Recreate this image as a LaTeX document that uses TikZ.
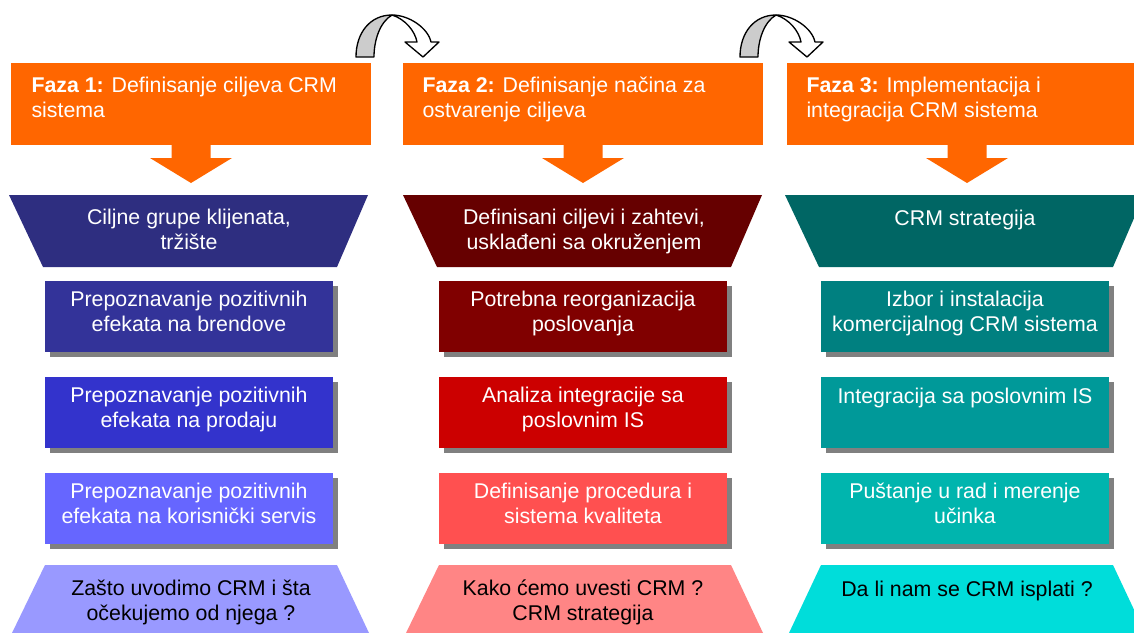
\documentclass[tikz,border=0pt]{standalone}
\usepackage{fontspec}
\setmainfont{Liberation Sans}
\usetikzlibrary{calc,shadows}

\tikzset{every picture/.style={line width=0.75pt}}
\tikzset{
  fazabox/.style={rectangle, fill={rgb, 255:red, 255; green, 102; blue, 0 }, minimum width=270pt, minimum height=61.5pt, inner sep=0pt, outer sep=0pt},
  korak/.style={rectangle, minimum width=216pt, minimum height=53.25pt, inner sep=0pt, outer sep=0pt, drop shadow={shadow xshift=3.75pt, shadow yshift=-3.75pt, fill={rgb, 255:red, 128; green, 128; blue, 128 }, opacity=1}},
  belo/.style={text=white, font=\fontsize{16}{18.5}\selectfont, align=center, anchor=base, inner sep=0pt},
  crno/.style={belo, text=black},
  zakrivljena/.style={draw=black, line width=1pt, line join=round},
}

\begin{document}
\begin{tikzpicture}[x=0.75pt,y=0.75pt,yscale=-1,xscale=1]
\useasboundingbox (0,0) rectangle (1134,632);

%Shape: Rectangle (faze)
\node[fazabox] (faza1) at (191,104) {};
\node[fazabox] (faza2) at (583,104) {};
\node[fazabox] (faza3) at (967,104) {};

%Shape: Down Arrow
\fill[fill={rgb, 255:red, 255; green, 102; blue, 0 }] ($(faza1.south)+(-19.5,0)$) -- ($(faza1.south)+(-19.5,13)$) -- ($(faza1.south)+(-41,13)$) -- ($(faza1.south)+(0,38)$) -- ($(faza1.south)+(41,13)$) -- ($(faza1.south)+(19.5,13)$) -- ($(faza1.south)+(19.5,0)$) -- cycle ;
%Shape: Down Arrow
\fill[fill={rgb, 255:red, 255; green, 102; blue, 0 }] ($(faza2.south)+(-19.5,0)$) -- ($(faza2.south)+(-19.5,13)$) -- ($(faza2.south)+(-41,13)$) -- ($(faza2.south)+(0,38)$) -- ($(faza2.south)+(41,13)$) -- ($(faza2.south)+(19.5,13)$) -- ($(faza2.south)+(19.5,0)$) -- cycle ;
%Shape: Down Arrow
\fill[fill={rgb, 255:red, 255; green, 102; blue, 0 }] ($(faza3.south)+(-19.5,0)$) -- ($(faza3.south)+(-19.5,13)$) -- ($(faza3.south)+(-41,13)$) -- ($(faza3.south)+(0,38)$) -- ($(faza3.south)+(41,13)$) -- ($(faza3.south)+(19.5,13)$) -- ($(faza3.south)+(19.5,0)$) -- cycle ;

%Shape: Curved Arrow
\draw[zakrivljena, fill={rgb, 255:red, 204; green, 204; blue, 204 }] (356,57) .. controls (356,33) and (370,15) .. (392,15) .. controls (380,22) and (374,40) .. (374,57) -- cycle ;
\draw[zakrivljena, fill=white] (392,15) .. controls (409,15) and (428,28) .. (431,42) -- (439,42) -- (423,57) -- (405,42) -- (417,42) .. controls (415,31) and (405,19) .. (392,15) -- cycle ;
%Shape: Curved Arrow
\begin{scope}[shift={(384,0)}]
\draw[zakrivljena, fill={rgb, 255:red, 204; green, 204; blue, 204 }] (356,57) .. controls (356,33) and (370,15) .. (392,15) .. controls (380,22) and (374,40) .. (374,57) -- cycle ;
\draw[zakrivljena, fill=white] (392,15) .. controls (409,15) and (428,28) .. (431,42) -- (439,42) -- (423,57) -- (405,42) -- (417,42) .. controls (415,31) and (405,19) .. (392,15) -- cycle ;
\end{scope}

%Shape: Trapezoid
\fill[fill={rgb, 255:red, 46; green, 46; blue, 128 }] (9,195) -- (368,195) -- (337,267) -- (43,267) -- cycle ;
%Shape: Trapezoid
\fill[fill={rgb, 255:red, 102; green, 0; blue, 0 }] (403,195) -- (762,195) -- (731,267) -- (437,267) -- cycle ;
%Shape: Trapezoid
\fill[fill={rgb, 255:red, 0; green, 102; blue, 100 }] (785,195) -- (1144,195) -- (1113,267) -- (819,267) -- cycle ;

%Shape: Rectangle (koraci)
\node[korak, fill={rgb, 255:red, 51; green, 51; blue, 153 }] (korak11) at (189,316.5) {};
\node[korak, fill={rgb, 255:red, 51; green, 51; blue, 204 }] (korak12) at (189,412.5) {};
\node[korak, fill={rgb, 255:red, 102; green, 102; blue, 255 }] (korak13) at (189,508.5) {};
\node[korak, fill={rgb, 255:red, 128; green, 0; blue, 0 }] (korak21) at (583,316.5) {};
\node[korak, fill={rgb, 255:red, 204; green, 0; blue, 0 }] (korak22) at (583,412.5) {};
\node[korak, fill={rgb, 255:red, 255; green, 80; blue, 80 }] (korak23) at (583,508.5) {};
\node[korak, fill={rgb, 255:red, 0; green, 128; blue, 128 }] (korak31) at (965,316.5) {};
\node[korak, fill={rgb, 255:red, 0; green, 153; blue, 153 }] (korak32) at (965,412.5) {};
\node[korak, fill={rgb, 255:red, 0; green, 181; blue, 174 }] (korak33) at (965,508.5) {};

%Shape: Trapezoid
\fill[fill={rgb, 255:red, 153; green, 153; blue, 255 }] (45,565) -- (337,565) -- (369,633) -- (12,633) -- cycle ;
%Shape: Trapezoid
\fill[fill={rgb, 255:red, 255; green, 133; blue, 133 }] (439,565) -- (731,565) -- (763,633) -- (406,633) -- cycle ;
%Shape: Trapezoid
\fill[fill={rgb, 255:red, 0; green, 221; blue, 218 }] (821,565) -- (1113,565) -- (1145,633) -- (789,633) -- cycle ;

% Text Node (base = last line)
\node[belo, align=left, anchor=base west] (fazatxt1) at (31,117.5) {\textbf{Faza 1:} Definisanje ciljeva CRM\\sistema};
% Text Node
\node[belo, align=left, anchor=base west] (fazatxt2) at (422,117.5) {\textbf{Faza 2:} Definisanje načina za\\ostvarenje ciljeva};
% Text Node
\node[belo, align=left, anchor=base west] (fazatxt3) at (806,117.5) {\textbf{Faza 3:} Implementacija i\\integracija CRM sistema};

% Text Node
\node[belo] (cilj1) at (189,249.5) {Ciljne grupe klijenata,\\tržište};
% Text Node
\node[belo] (cilj2) at (584,249.5) {Definisani ciljevi i zahtevi,\\usklađeni sa okruženjem};
% Text Node
\node[belo] (cilj3) at (965,225) {CRM strategija};

% Text Node
\node[belo] (tekst11) at ($(korak11.north)+(0,50.5)$) {Prepoznavanje pozitivnih\\efekata na brendove};
% Text Node
\node[belo] (tekst12) at ($(korak12.north)+(0,50.5)$) {Prepoznavanje pozitivnih\\efekata na prodaju};
% Text Node
\node[belo] (tekst13) at ($(korak13.north)+(0,50.5)$) {Prepoznavanje pozitivnih\\efekata na korisnički servis};
% Text Node
\node[belo] (tekst21) at ($(korak21.north)+(0,50.5)$) {Potrebna reorganizacija\\poslovanja};
% Text Node
\node[belo] (tekst22) at ($(korak22.north)+(0,50.5)$) {Analiza integracije sa\\poslovnim IS};
% Text Node
\node[belo] (tekst23) at ($(korak23.north)+(0,50.5)$) {Definisanje procedura i\\sistema kvaliteta};
% Text Node
\node[belo] (tekst31) at ($(korak31.north)+(0,50.5)$) {Izbor i instalacija\\komercijalnog CRM sistema};
% Text Node
\node[belo] (tekst32) at ($(korak32.north)+(0,26)$) {Integracija sa poslovnim IS};
% Text Node
\node[belo] (tekst33) at ($(korak33.north)+(0,50.5)$) {Puštanje u rad i merenje\\učinka};

% Text Node
\node[crno] (pitanje1) at (191,620) {Zašto uvodimo CRM i šta\\očekujemo od njega ?};
% Text Node
\node[crno] (pitanje2) at (583,620) {Kako ćemo uvesti CRM ?\\CRM strategija};
% Text Node
\node[crno] (pitanje3) at (967,596) {Da li nam se CRM isplati ?};

\end{tikzpicture}
\end{document}
